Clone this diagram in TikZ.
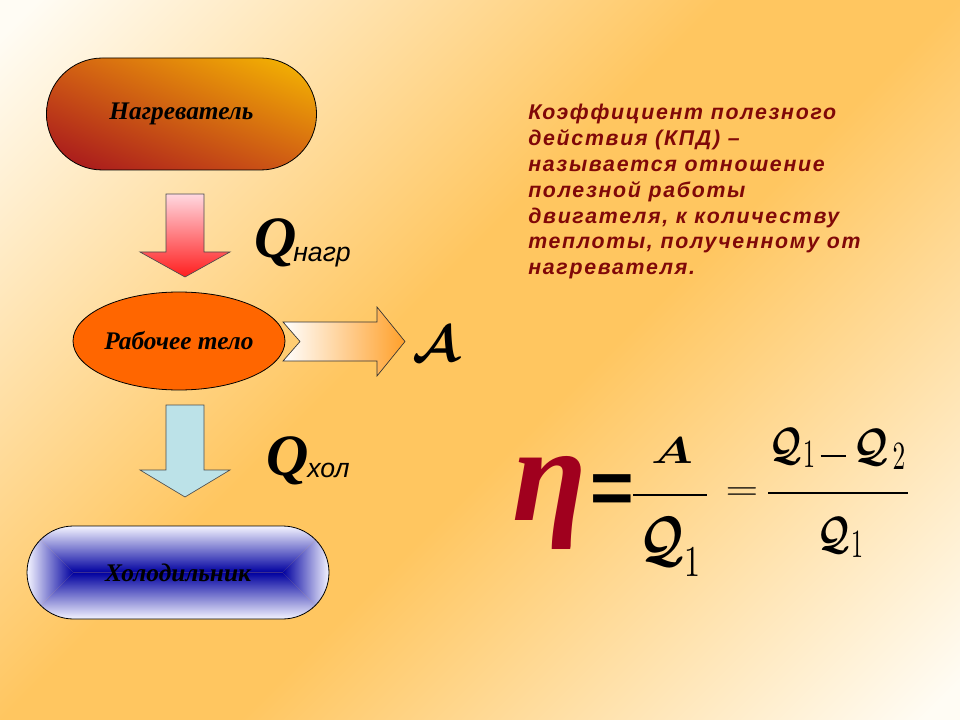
\documentclass[tikz,border=0pt]{standalone}
\usepackage{fontspec}
\usetikzlibrary{shapes.misc,shapes.geometric,shadings}
\newfontfamily\lserif{Liberation Serif}
\newfontfamily\lsans{Liberation Sans}
\newfontfamily\lsansls[LetterSpace=8]{Liberation Sans}
\newcommand\pxu{0.75pt}
\definecolor{bgw}{RGB}{255,252,244}
\definecolor{bgo}{RGB}{255,198,96}
\definecolor{heatdark}{RGB}{163,16,30}
\definecolor{heatgold}{RGB}{247,188,0}
\definecolor{heatmid}{RGB}{210,94,20}
\definecolor{bodyorange}{RGB}{255,102,0}
\definecolor{pinktop}{RGB}{255,216,224}
\definecolor{pinkbot}{RGB}{255,30,30}
\definecolor{arrorange}{RGB}{255,160,42}
\definecolor{lightblue}{RGB}{188,226,232}
\definecolor{coolblue}{RGB}{0,0,160}
\definecolor{coolwhite}{RGB}{244,244,255}
\definecolor{txtred}{RGB}{128,8,8}
\definecolor{etared}{RGB}{160,0,30}
\pgfdeclareverticalshading{bgshade}{100bp}{color(0bp)=(bgw); color(16bp)=(bgw); color(45bp)=(bgo); color(55bp)=(bgo); color(84bp)=(bgw); color(100bp)=(bgw)}
\tikzset{
  boxlabel/.style={font=\lserif\bfseries\itshape\fontsize{19}{19}\selectfont, text=black},
  outline/.style={draw=black, line width=0.6pt},
  defline/.style={anchor=base west, inner sep=0pt, text=txtred, font=\lsansls\bfseries\itshape\fontsize{16}{16}\selectfont},
  qbig/.style={inner sep=0pt, font=\lserif\bfseries\itshape\fontsize{44}{44}\selectfont},
  qsub/.style={inner sep=0pt, font=\lsans\itshape\fontsize{20}{20}\selectfont},
  fracline/.style={line width=2.2pt},
  fpart/.style={inner sep=0pt},
}
\newcommand\calQ[2]{\scalebox{#1}[#2]{\usefont{OMS}{cmsy}{b}{n}\fontsize{10}{10}\selectfont Q}}
\newcommand\digit[3]{\scalebox{#1}[#2]{\usefont{OT1}{cmr}{m}{n}\fontsize{10}{10}\selectfont #3}}
\begin{document}
\begin{tikzpicture}[x=0.75pt,y=-0.75pt]
\useasboundingbox (0,0) rectangle (960,720);
% background
\shade[shading=bgshade, shading angle=45] (0,0) rectangle (960,720);

% heater
\node[rounded rectangle, outline, minimum width=279*\pxu, minimum height=112*\pxu,
  shade, lower left=heatdark, upper right=heatgold, upper left=heatmid, lower right=heatmid,
  boxlabel] (heater) at (181.5,114) {Нагреватель};

% arrow heater -> body
\shade[top color=pinktop, bottom color=pinkbot, draw=black!70, line width=0.5pt]
  (166,194) -- (204,194) -- (204,252) -- (230,252) -- (185,277) -- (140,252) -- (166,252) -- cycle;
\node[qbig, anchor=base west] (qh) at (254,258) {Q};
\node[qsub, anchor=base west] (qhs) at (293,262) {нагр};

% working body
\node[ellipse, outline, fill=bodyorange, minimum width=212*\pxu, minimum height=98*\pxu, inner sep=0pt,
  boxlabel] (body) at (179,341) {Рабочее тело};

% work arrow
\shade[left color=white, right color=arrorange, draw=black!80, line width=0.5pt]
  (283,322) -- (377,322) -- (377,307) -- (405,341.5) -- (377,376) -- (377,361) -- (283,361) -- (300,341.5) -- cycle;
\node[fpart] (work) at (436,344) {\scalebox{3.8}{\usefont{OMS}{cmsy}{b}{n}\fontsize{10}{10}\selectfont A}};

% arrow body -> cooler
\fill[lightblue, draw=black!70, line width=0.5pt]
  (166,405) -- (204,405) -- (204,470) -- (230,470) -- (185,497) -- (140,470) -- (166,470) -- cycle;
\node[qbig, anchor=base west] (qc) at (266,475) {Q};
\node[qsub, anchor=base west] (qcs) at (307,477) {хол};

% cooler (box gradient)
\begin{scope}
\clip[rounded corners=46.5*\pxu] (27,526) rectangle (329,619);
\shade[top color=coolwhite, bottom color=coolblue] (27,526) -- (329,526) -- (282.5,572.5) -- (73.5,572.5) -- cycle;
\shade[top color=coolblue, bottom color=coolwhite] (27,619) -- (329,619) -- (282.5,572.5) -- (73.5,572.5) -- cycle;
\shade[left color=coolwhite, right color=coolblue] (27,526) -- (73.5,572.5) -- (27,619) -- cycle;
\shade[left color=coolblue, right color=coolwhite] (329,526) -- (282.5,572.5) -- (329,619) -- cycle;
\end{scope}
\draw[outline, rounded corners=46.5*\pxu] (27,526) rectangle (329,619);
\node[boxlabel] (cooler) at (178,572.5) {Холодильник};

% definition text
\node[defline] (d1) at (528,120) {Коэффициент полезного};
\node[defline] (d2) at (528,146) {действия (КПД) –};
\node[defline] (d3) at (528,172) {называется отношение};
\node[defline] (d4) at (528,198) {полезной работы};
\node[defline] (d5) at (528,224) {двигателя, к количеству};
\node[defline] (d6) at (528,249) {теплоты, полученному от};
\node[defline] (d7) at (528,275) {нагревателя.};

% formula
\node[fpart, text=etared] (eta) at (550,503) {\lserif\bfseries\itshape\fontsize{102}{102}\selectfont η};
\node[fpart] (eq1) at (612,494) {\lsans\bfseries\fontsize{56}{56}\selectfont =};
\node[fpart] (fa) at (672,451) {\scalebox{3.6}[2.8]{\usefont{OML}{cmm}{b}{it}\fontsize{10}{10}\selectfont A}};
\coordinate (f1l) at (633,495);
\coordinate (f1r) at (707,495);
\draw[fracline] (f1l) -- (f1r);
\node[fpart] (fq1) at (662,541) {\calQ{3.6}{4.6}};
\node[fpart] (fq1s) at (692,562) {\digit{2.4}{3.3}{1}};
\node[fpart] (eq2) at (742,494) {\scalebox{3.2}[2.4]{\usefont{OT1}{cmr}{m}{n}\fontsize{10}{10}\selectfont =}};
\coordinate (f2l) at (768,493);
\coordinate (f2r) at (908,493);
\draw[fracline] (f2l) -- (f2r);
\node[fpart] (nq1) at (786,446) {\calQ{2.6}{3.4}};
\node[fpart] (nq1s) at (809,455) {\digit{1.8}{3.0}{1}};
\node[fpart] (nmin) at (833,456) {\rule{18.75pt}{1.6pt}};
\node[fpart] (nq2) at (871,447) {\calQ{2.8}{3.4}};
\node[fpart] (nq2s) at (899,457) {\digit{1.9}{3.0}{2}};
\node[fpart] (dq1) at (834,535) {\calQ{2.6}{3.4}};
\node[fpart] (dq1s) at (857,545) {\digit{1.8}{3.0}{1}};
\end{tikzpicture}
\end{document}
